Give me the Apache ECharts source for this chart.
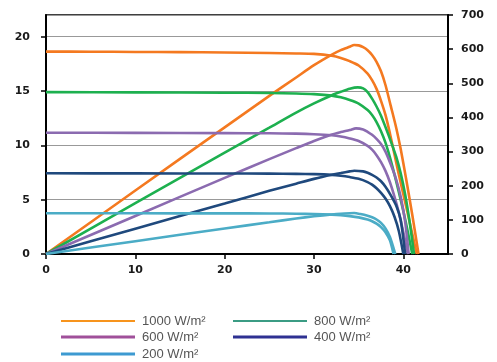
<!DOCTYPE html>
<html>
<head>
<meta charset="utf-8">
<script src="https://cdn.jsdelivr.net/npm/echarts@6/dist/echarts.min.js"></script>
<style>html,body{margin:0;padding:0;background:#fff;}#c{width:497px;height:362px;}</style>
</head>
<body>
<div id="c"></div>
<script>
// Irradiance levels (legend labels)
const levels = ['1000 W/m²', '800 W/m²', '600 W/m²', '400 W/m²', '200 W/m²'];

// Axis ticks
const xTicks = [0, 10, 20, 30, 40];
const currentTicks = [0, 5, 10, 15, 20];
const powerTicks = [0, 100, 200, 300, 400, 500, 600, 700];

// 1000 W/m2
const v1000I = [0, 5, 10, 15, 20, 25, 28, 30, 32, 33, 34, 35, 36, 36.5, 37, 37.5, 38, 38.5, 39, 39.5, 40, 40.5, 41, 41.5];
const i1000  = [18.63, 18.62, 18.6, 18.58, 18.55, 18.5, 18.46, 18.42, 18.25, 18.05, 17.75, 17.35, 16.6, 16.0, 15.2, 14.1, 12.8, 11.1, 9.2, 7.3, 5.5, 3.7, 1.85, 0];
const v1000P = [0, 10, 20, 25, 28, 30, 32, 33, 34, 34.5, 35, 35.5, 36, 36.5, 37, 37.5, 38, 38.6, 39.2, 39.7, 40.3, 41, 41.7];
const p1000  = [0, 186, 371, 463, 517, 553, 584, 597, 607, 612, 611, 606, 597, 583, 563, 535, 495, 433, 370, 308, 222, 115, 0];

// 800 W/m2
const v800I = [0, 10, 20, 25, 28, 30, 32, 33, 34, 35, 36, 36.5, 37, 37.5, 38, 38.5, 39, 39.5, 40, 40.5, 41];
const i800  = [14.9, 14.88, 14.85, 14.82, 14.78, 14.72, 14.58, 14.42, 14.18, 13.85, 13.25, 12.8, 12.15, 11.3, 10.25, 8.9, 7.35, 5.7, 3.95, 2.05, 0];
const v800P = [0, 10, 20, 25, 28, 30, 32, 33, 34, 34.9, 35.5, 36, 36.5, 37, 37.5, 38, 38.6, 39.2, 39.7, 40.2, 40.7, 41.2];
const p800  = [0, 149, 297, 370, 414, 441, 465, 475, 484, 488, 485, 474, 455, 432, 405, 372, 330, 285, 237, 175, 95, 0];

// 600 W/m2
const v600I = [0, 10, 20, 25, 28, 30, 32, 33, 34, 35, 36, 36.5, 37, 37.5, 38, 38.5, 39, 39.5, 40, 40.5];
const i600  = [11.16, 11.15, 11.13, 11.11, 11.08, 11.03, 10.93, 10.82, 10.64, 10.4, 9.95, 9.6, 9.1, 8.45, 7.65, 6.6, 5.3, 3.8, 2.0, 0];
const v600P = [0, 10, 20, 25, 28, 30, 32, 33, 34, 34.7, 35.5, 36, 36.5, 37, 37.5, 38, 38.6, 39.2, 39.7, 40.2, 40.6];
const p600  = [0, 111.5, 223, 278, 310, 331, 350, 357, 363, 368, 365, 358, 349, 337, 322, 300, 262, 218, 168, 95, 0];

// 400 W/m2
const v400I = [0, 10, 20, 25, 28, 30, 32, 33, 34, 35, 36, 36.5, 37, 37.5, 38, 38.5, 39, 39.5, 40];
const i400  = [7.43, 7.42, 7.41, 7.4, 7.38, 7.35, 7.28, 7.2, 7.08, 6.92, 6.62, 6.38, 6.05, 5.62, 5.1, 4.4, 3.45, 2.1, 0];
const v400P = [0, 10, 20, 25, 28, 30, 32, 33, 34, 34.5, 35.5, 36, 36.5, 37, 37.5, 38, 38.6, 39.2, 39.7, 40.2];
const p400  = [0, 74, 148, 185, 206, 220, 232, 237, 242, 244, 242, 238, 232, 224, 213, 197, 172, 142, 100, 0];

// 200 W/m2
const v200I = [0, 10, 20, 25, 28, 30, 32, 33, 34, 35, 36, 36.5, 37, 37.5, 38, 38.5, 38.9];
const i200  = [3.75, 3.745, 3.74, 3.73, 3.71, 3.68, 3.62, 3.57, 3.49, 3.37, 3.17, 3.02, 2.8, 2.48, 2.0, 1.25, 0];
const v200P = [0, 10, 20, 25, 28, 30, 32, 33, 34, 34.5, 35.2, 36, 36.5, 37, 37.5, 38, 38.5, 39.1];
const p200  = [0, 37.5, 74.8, 93, 104, 110.4, 115.8, 118, 119.5, 120, 117, 112, 107.5, 101, 91, 75, 50, 0];

const curveColors  = ['#F47920', '#1DB04F', '#8B6BB0', '#1F497D', '#4BACC6'];
const legendColors = ['#F7941D', '#3B9C84', '#A0509A', '#2E3192', '#3D9AD1'];

const curves = [
  [v1000I, i1000, v1000P, p1000],
  [v800I, i800, v800P, p800],
  [v600I, i600, v600P, p600],
  [v400I, i400, v400P, p400],
  [v200I, i200, v200P, p200]
];

const pair = (xs, ys) => xs.map((x, k) => [x, ys[k]]);

const series = [];
curves.forEach((c, n) => {
  series.push({
    name: 'I ' + levels[n], type: 'line', yAxisIndex: 0, data: pair(c[0], c[1]),
    smooth: 0.25, symbol: 'none', lineStyle: {color: curveColors[n], width: 2.6}, z: 3
  });
  series.push({
    name: 'P ' + levels[n], type: 'line', yAxisIndex: 1, data: pair(c[2], c[3]),
    smooth: 0.25, symbol: 'none', lineStyle: {color: curveColors[n], width: 2.6}, z: 3
  });
});
// legend-only series
levels.forEach((lv, n) => {
  series.push({name: lv, type: 'line', data: [], symbol: 'none',
    itemStyle: {color: legendColors[n]}, lineStyle: {color: legendColors[n]}});
});

const legendPos = [[61, 321.5], [233, 321.5], [61, 338], [233, 338], [61, 355]];
const legendH = [2, 2, 3, 3, 3];
const legends = levels.map((lv, n) => ({
  data: [lv], left: legendPos[n][0], top: legendPos[n][1] - legendH[n] / 2 - 6,
  padding: 0, icon: 'rect', itemWidth: 74, itemHeight: legendH[n],
  selectedMode: false,
  textStyle: {color: '#555', fontSize: 13, fontFamily: 'Liberation Sans', padding: [0, 0, 0, 2]}
}));

const axisLabelStyle = {color: '#1a1a1a', fontSize: 11, fontWeight: 'bold', fontFamily: 'DejaVu Sans'};

const chart = echarts.init(document.getElementById('c'), null, {renderer: 'canvas'});
chart.setOption({
  animation: false,
  backgroundColor: '#fff',
  grid: {left: 46, right: 49, top: 15, bottom: 108, show: true, borderColor: '#000', borderWidth: 1.5, backgroundColor: 'transparent'},
  legend: legends,
  xAxis: {
    type: 'value', min: 0, max: 45, interval: 10,
    axisLine: {onZero: false, lineStyle: {color: '#000', width: 2}},
    axisTick: {show: true, length: 5, lineStyle: {color: '#000', width: 1.5}},
    axisLabel: Object.assign({margin: 11, showMaxLabel: false,
      formatter: v => xTicks.includes(v) ? String(v) : ''}, axisLabelStyle),
    splitLine: {show: false}
  },
  yAxis: [
    {
      type: 'value', min: 0, max: 22, interval: 5, position: 'left',
      axisLine: {show: true, lineStyle: {color: '#000', width: 2}},
      axisTick: {show: true, length: 5, lineStyle: {color: '#000', width: 1.5}},
      axisLabel: Object.assign({margin: 16, showMaxLabel: false,
        formatter: v => currentTicks.includes(v) ? String(v) : ''}, axisLabelStyle),
      splitLine: {show: true, lineStyle: {color: '#999', width: 1}}
    },
    {
      type: 'value', min: 0, max: 700, interval: 100, position: 'right',
      axisLine: {show: true, lineStyle: {color: '#000', width: 2}},
      axisTick: {show: true, length: 5, lineStyle: {color: '#000', width: 1.5}},
      axisLabel: Object.assign({margin: 13,
        formatter: v => powerTicks.includes(v) ? String(v) : ''}, axisLabelStyle),
      splitLine: {show: false}
    }
  ],
  series: series
});
</script>
</body>
</html>
